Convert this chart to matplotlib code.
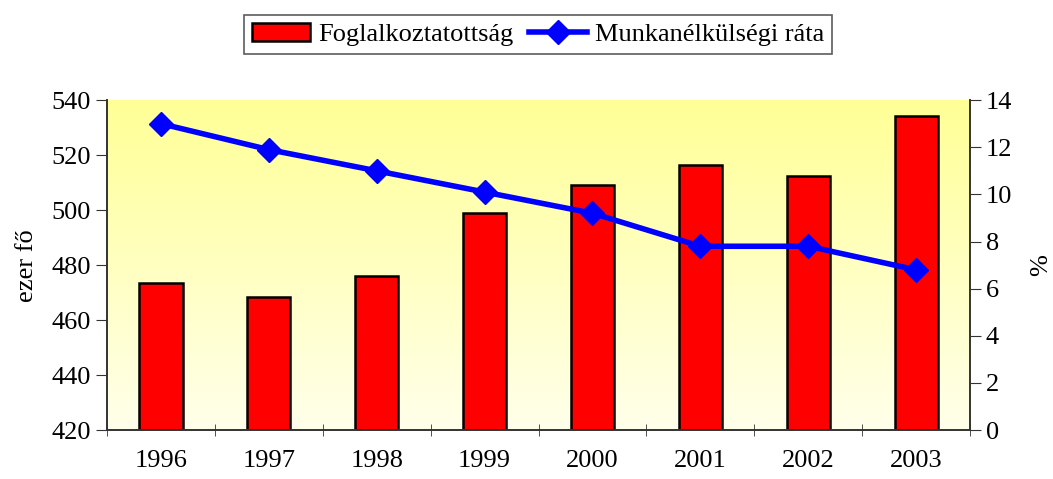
import numpy as np
import matplotlib.pyplot as plt
from matplotlib.lines import Line2D
from matplotlib.patches import Patch

plt.rcParams['font.family'] = ['Liberation Serif', 'DejaVu Serif']

# adatok
years = ["1996", "1997", "1998", "1999", "2000", "2001", "2002", "2003"]
employment = [473.5, 468.5, 476, 498.8, 509, 516.3, 512.3, 534.2]
unemployment = [13.0, 11.9, 11.0, 10.1, 9.2, 7.8, 7.8, 6.8]

FS = 19

fig = plt.figure(figsize=(10.53, 4.79), dpi=100)
ax = fig.add_axes([0.1016, 0.102, 0.8196, 0.689])
ax2 = ax.twinx()

# sarga szinatmenet a hatterben
grad = np.linspace(0, 1, 256).reshape(-1, 1)
top = np.array([255, 255, 150]) / 255
bottom = np.array([255, 255, 235]) / 255
img = bottom + (top - bottom) * grad
ax.imshow(img[:, None, :].repeat(2, axis=1), extent=[-0.5, 7.5, 420, 540],
          origin='lower', aspect='auto', zorder=0)

x = np.arange(len(years))
ax.bar(x, employment, width=0.4, bottom=0, color='#ff0000',
       edgecolor='black', linewidth=1.8, zorder=2)
ax.set_ylim(420, 540)
ax.set_xlim(-0.5, 7.5)
ax.set_yticks(np.arange(420, 541, 20))

ax2.plot(x, unemployment, color='#0000ff', linewidth=4, marker='D',
         markersize=12, zorder=3)
ax2.set_ylim(0, 14)
ax2.set_yticks(np.arange(0, 15, 2))

ax.set_xticks(x)
ax.set_xticklabels(years)
ax.set_xticks(np.arange(-0.5, 8, 1), minor=True)
ax.tick_params(axis='x', which='major', length=0, pad=14, labelsize=FS)
ax.tick_params(axis='x', which='minor', length=9, direction='inout',
               color='#333333')
ax.tick_params(axis='y', length=8, direction='out', labelsize=FS,
               color='#333333')
ax2.tick_params(axis='y', length=8, direction='out', labelsize=FS,
                color='#333333')

for a in (ax, ax2):
    a.spines['top'].set_visible(False)
    for s in ('left', 'right', 'bottom'):
        a.spines[s].set_color('#333333')
        a.spines[s].set_linewidth(1.2)

ax.set_ylabel("ezer fő", fontsize=FS, labelpad=10)
ax2.set_ylabel("%", fontsize=FS, labelpad=13)

handles = [Patch(facecolor='#ff0000', edgecolor='black', linewidth=1.8),
           Line2D([], [], color='#0000ff', linewidth=4, marker='D',
                  markersize=12)]
leg = fig.legend(handles, ["Foglalkoztatottság", "Munkanélkülségi ráta"],
                 loc='center', bbox_to_anchor=(0.511, 0.928), ncol=2,
                 fontsize=FS, frameon=True, fancybox=False, handlelength=2.2,
                 handletextpad=0.3, columnspacing=0.6, borderpad=0.3)
leg.get_frame().set_edgecolor('#333333')
leg.get_frame().set_linewidth(1.2)

fig.savefig("out.png", dpi=100)
